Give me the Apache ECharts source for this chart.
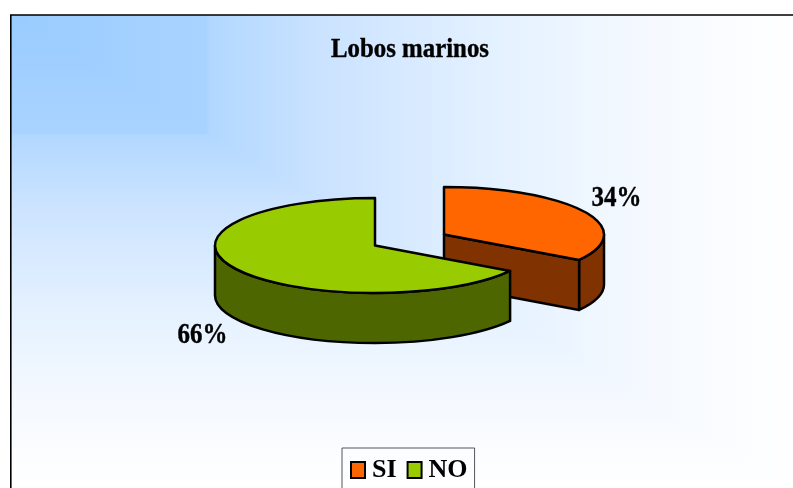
<!DOCTYPE html>
<html><head><meta charset="utf-8">
<style>html,body{margin:0;padding:0;background:#fff;overflow:hidden}#c{width:793px;height:488px}</style>
<script src="https://cdn.jsdelivr.net/npm/echarts@6/dist/echarts.min.js"></script>
</head><body><div id="c"></div>
<script>
const chartTitle = 'Lobos marinos';
const categories = ['SI', 'NO'];
const seriesValues = [34, 66];
const valueLabels = ['34%', '66%'];

const FONT = '"Liberation Serif","Times New Roman",serif';
const topColors = ['#FF6600', '#99CC00'];
const sideColors = ['#803300', '#4D6600'];
const RX = 160, RY = 47.5, DEPTH = 50;
const CENTER = [375, 245.5];
const EXPLODE = [[69, -11], [0, 0]];
const total = seriesValues.reduce((a, b) => a + b, 0);

function pt(c, t, dy) {
  return [c[0] + RX * Math.sin(t), c[1] - RY * Math.cos(t) + (dy || 0)];
}
function arc(to, large, sweep) {
  return `A ${RX} ${RY} 0 ${large} ${sweep} ${to[0]} ${to[1]} `;
}
function renderSlice(idx) {
  let before = 0;
  for (let i = 0; i < idx; i++) before += seriesValues[i];
  return function (params, api) {
    const v = api.value(0);
    const t0 = before / total * 2 * Math.PI;
    const t1 = (before + v) / total * 2 * Math.PI;
    const c = [CENTER[0] + EXPLODE[idx][0], CENTER[1] + EXPLODE[idx][1]];
    const line = { stroke: '#000', lineWidth: 2.5, lineJoin: 'round' };
    const children = [];
    const w0 = Math.max(t0, Math.PI / 2), w1 = Math.min(t1, 1.5 * Math.PI);
    if (w1 > w0) {
      const a = pt(c, w0), b = pt(c, w1), bd = pt(c, w1, DEPTH), ad = pt(c, w0, DEPTH);
      children.push({ type: 'path', shape: { pathData:
        `M ${a[0]} ${a[1]} ` + arc(b, 0, 1) + `L ${bd[0]} ${bd[1]} ` + arc(ad, 0, 0) + 'Z' },
        style: Object.assign({ fill: sideColors[idx] }, line) });
    }
    if (t0 === 0) {
      const e = pt(c, t1), ed = pt(c, t1, DEPTH);
      children.push({ type: 'path', shape: { pathData:
        `M ${c[0]} ${c[1]} L ${e[0]} ${e[1]} L ${ed[0]} ${ed[1]} L ${c[0]} ${c[1] + DEPTH} Z` },
        style: Object.assign({ fill: sideColors[idx] }, line) });
    }
    const s = pt(c, t0), e = pt(c, t1);
    const large = (t1 - t0) > Math.PI ? 1 : 0;
    children.push({ type: 'path', shape: { pathData:
      `M ${c[0]} ${c[1]} L ${s[0]} ${s[1]} ` + arc(e, large, 1) + 'Z' },
      style: Object.assign({ fill: topColors[idx] }, line) });
    const mid = (t0 + t1) / 2;
    const cosm = Math.cos(mid);
    children.push({ type: 'text',
      x: c[0] + RX * 1.23 * Math.sin(mid),
      y: c[1] - RY * 1.65 * cosm + (cosm < 0 ? DEPTH : 0) + 2,
      scaleX: 0.86,
      style: {
        text: valueLabels[idx], x: 0, y: 0,
        align: 'center', verticalAlign: 'middle',
        font: `bold 29px ${FONT}`, fill: '#000', stroke: '#000', lineWidth: 0.4
      } });
    return { type: 'group', children };
  };
}

// Corner gradient: colour follows the larger of the relative x and y distance from the top-left corner.
const stops = [
  { offset: 0, color: '#99CCFF' }, { offset: 0.25, color: '#A9D3FF' },
  { offset: 0.255, color: '#B2D8FF' }, { offset: 0.4, color: '#CBE3FF' },
  { offset: 0.6, color: '#E2F0FF' }, { offset: 0.8, color: '#F4F9FF' },
  { offset: 1, color: '#FFFFFF' }
];
const L = 11, T = 15, R = 793, B = 488;

const chart = echarts.init(document.getElementById('c'), null, { renderer: 'canvas' });
chart.setOption({
  animation: false,
  backgroundColor: '#fff',
  legend: {
    data: categories, left: 342, top: 448, orient: 'horizontal', icon: 'rect',
    selectedMode: false, itemWidth: 14, itemHeight: 16, itemGap: 10,
    padding: [9, 7, 14, 8], borderColor: '#555', borderWidth: 1,
    itemStyle: { borderColor: '#000', borderWidth: 2 },
    textStyle: { fontFamily: FONT, fontWeight: 'bold', fontSize: 26, color: '#000', padding: [0, 0, 0, 2] }
  },
  graphic: [
    { type: 'rect', z: -10, silent: true,
      shape: { x: L, y: T, width: R - L, height: B - T },
      style: { fill: { type: 'linear', x: 0, y: T, x2: 0, y2: B, global: true, colorStops: stops } } },
    { type: 'polygon', z: -9, silent: true,
      shape: { points: [[L, T], [R, T], [R, B]] },
      style: { fill: { type: 'linear', x: L, y: 0, x2: R, y2: 0, global: true, colorStops: stops } } },
    { type: 'polyline', z: -5, silent: true,
      shape: { points: [[10.8, 488], [10.8, 15], [793, 15]] },
      style: { stroke: '#000', lineWidth: 1.6, fill: null } },
    { type: 'text', z: 5, silent: true, x: 410, y: 50, scaleX: 0.887,
      style: { text: chartTitle, x: 0, y: 0, align: 'center', verticalAlign: 'middle',
        font: `bold 28px ${FONT}`, fill: '#000', stroke: '#000', lineWidth: 0.4 } }
  ],
  series: categories.map((name, i) => ({
    type: 'custom', name, coordinateSystem: 'none', silent: true,
    itemStyle: { color: topColors[i] },
    data: [[seriesValues[i]]],
    renderItem: renderSlice(i)
  }))
});
</script></body></html>
